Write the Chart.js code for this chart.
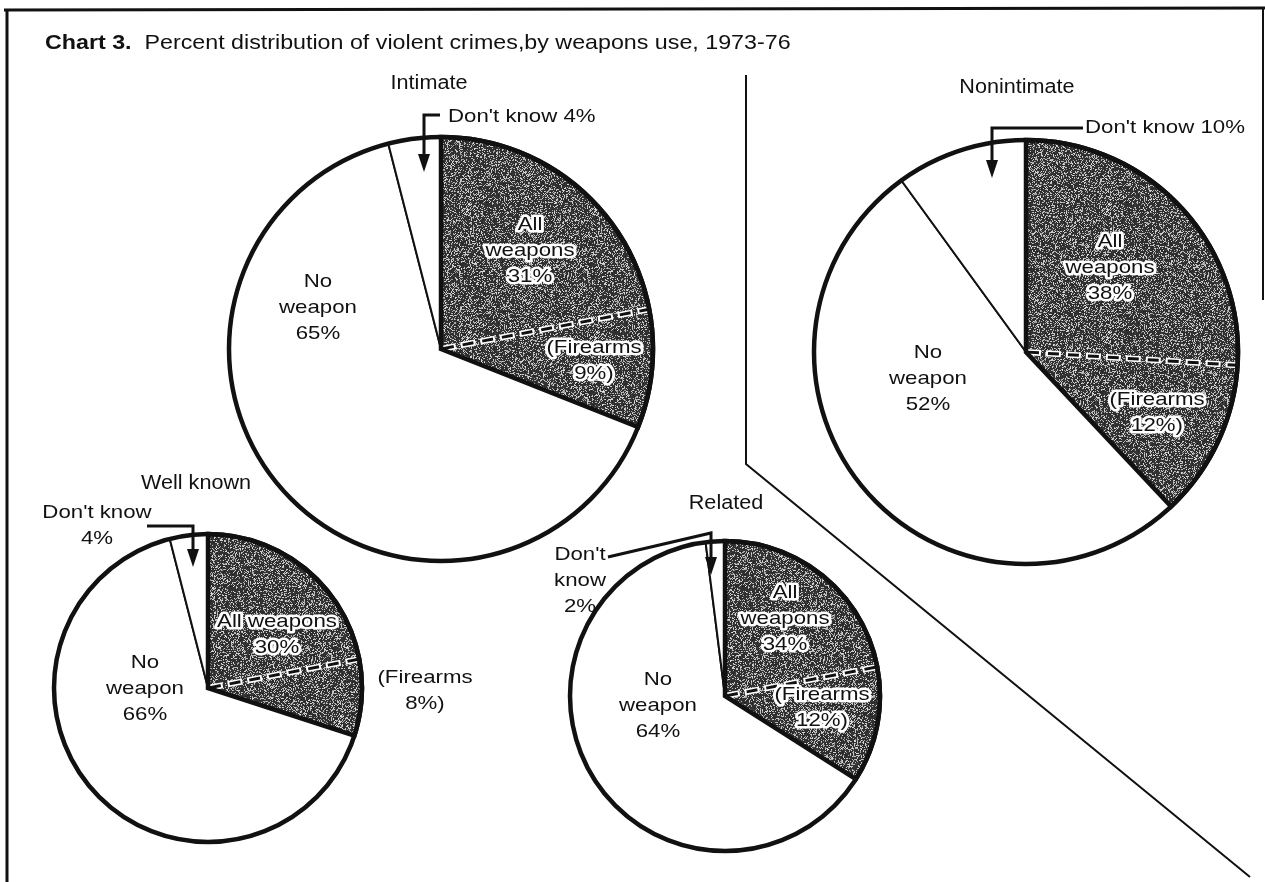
<!DOCTYPE html>
<html>
<head>
<meta charset="utf-8">
<script src="https://cdn.jsdelivr.net/npm/chart.js@4.4.0/dist/chart.umd.min.js"></script>
<style>
html,body{margin:0;padding:0;background:#fff;}
#page{position:relative;width:1265px;height:882px;overflow:hidden;background:#fff;font-family:"Liberation Sans",Arial,sans-serif;}
canvas{position:absolute;left:0;top:0;}
#title{position:absolute;left:45px;top:29px;font-size:21px;line-height:26px;white-space:pre;color:#111;transform:scaleX(1.107);transform-origin:0 50%;}
</style>
</head>
<body>
<div id="page">
<canvas id="frame" width="1265" height="882"></canvas>
<div id="title"><b>Chart 3.</b>  Percent distribution of violent crimes,by weapons use, 1973-76</div>
<canvas id="c0" width="1265" height="882"></canvas>
<canvas id="c1" width="1265" height="882"></canvas>
<canvas id="c2" width="1265" height="882"></canvas>
<canvas id="c3" width="1265" height="882"></canvas>
</div>
<script>
// ---- data ----
const sliceNames = ['All weapons', 'No weapon', "Don't know"];
const pieTitles = ['Intimate', 'Nonintimate', 'Well known', 'Related'];
const intimateShares = [31, 65, 4];
const nonintimateShares = [38, 52, 10];
const wellKnownShares = [30, 66, 4];
const relatedShares = [34, 64, 2];
const firearmsShares = [9, 12, 8, 12];

// ---- layout (positions relative to each pie centre) ----
const W = 1265, H = 882;
const INK = '#111';
const layouts = [
  { cx: 441, cy: 349, r: 212, title: [-12, -266],
    weapons: { x: 89, y: -124, lines: v => ['All', 'weapons', v + '%'] },
    fire: { x: 153, y: -1, halo: true },
    none: { x: -123, y: -67, lines: v => ['No', 'weapon', v + '%'] },
    dk: { x: 7, y: -232, align: 'left', lines: v => ["Don't know " + v + '%'] },
    arrow: [[-1, -234], [-17, -234], [-17, -177]] },
  { cx: 1026, cy: 352, r: 212, title: [-9, -265],
    weapons: { x: 84, y: -110, lines: v => ['All', 'weapons', v + '%'] },
    fire: { x: 131, y: 48, halo: true },
    none: { x: -98, y: 1, lines: v => ['No', 'weapon', v + '%'] },
    dk: { x: 59, y: -224, align: 'left', lines: v => ["Don't know " + v + '%'] },
    arrow: [[57, -224], [-34, -224], [-34, -174]] },
  { cx: 208, cy: 688, r: 154, title: [-12, -205],
    weapons: { x: 69, y: -66, lines: v => ['All weapons', v + '%'] },
    fire: { x: 217, y: -10, halo: false },
    none: { x: -63, y: -25, lines: v => ['No', 'weapon', v + '%'] },
    dk: { x: -111, y: -175, align: 'center', lines: v => ["Don't know", v + '%'] },
    arrow: [[-61, -162], [-15, -162], [-15, -121]] },
  { cx: 725, cy: 696, r: 155, title: [1, -193],
    weapons: { x: 60, y: -103, lines: v => ['All', 'weapons', v + '%'] },
    fire: { x: 97, y: -1, halo: true },
    none: { x: -67, y: -16, lines: v => ['No', 'weapon', v + '%'] },
    dk: { x: -145, y: -141, align: 'center', lines: v => ["Don't", 'know', v + '%'] },
    arrow: [[-117, -139], [-14, -163], [-14, -121]] }
];
const shareSets = [intimateShares, nonintimateShares, wellKnownShares, relatedShares];

// ---- speckled grey screen for the weapons slices (fixed hash texture) ----
function makeScreen() {
  const n = 128;
  const c = document.createElement('canvas');
  c.width = n; c.height = n;
  const g = c.getContext('2d');
  const img = g.createImageData(n, n);
  for (let j = 0; j < n; j++) {
    for (let i = 0; i < n; i++) {
      const h = Math.sin(i * 12.9898 + j * 78.233) * 43758.5453;
      const f = h - Math.floor(h);
      const v = f < 0.7 ? 38 + Math.round(f * 30) : 150 + Math.round((f - 0.7) * 250);
      const k = (j * n + i) * 4;
      img.data[k] = v; img.data[k + 1] = v; img.data[k + 2] = v; img.data[k + 3] = 255;
    }
  }
  g.putImageData(img, 0, 0);
  return g.createPattern(c, 'repeat');
}
const SCREEN = makeScreen();

// ---- frame, title rule and dividers ----
(function drawFrame() {
  const c = document.getElementById('frame').getContext('2d');
  c.strokeStyle = INK;
  c.lineCap = 'butt';
  c.lineWidth = 3;
  c.beginPath(); c.moveTo(4, 10); c.lineTo(1265, 8); c.stroke();
  c.beginPath(); c.moveTo(7, 9); c.lineTo(7, 882); c.stroke();
  c.lineWidth = 2;
  c.beginPath(); c.moveTo(1263, 9); c.lineTo(1263, 300); c.stroke();
  c.lineWidth = 2;
  c.beginPath(); c.moveTo(746, 75); c.lineTo(746, 464); c.lineTo(1250, 877); c.stroke();
})();

// ---- text helper ----
function drawLines(ctx, lines, x, y, o) {
  const size = o.size || 19, lh = o.lh || 26, sx = o.sx || 1.17;
  ctx.save();
  ctx.font = size + 'px "Liberation Sans", Arial, sans-serif';
  ctx.textBaseline = 'middle';
  ctx.textAlign = o.align || 'center';
  lines.forEach((t, i) => {
    ctx.save();
    ctx.translate(x, y + i * lh);
    ctx.scale(sx, 1);
    if (o.halo) {
      ctx.lineJoin = 'round';
      ctx.lineWidth = 5;
      ctx.strokeStyle = '#fff';
      ctx.strokeText(t, 0, 0);
    }
    ctx.fillStyle = INK;
    ctx.fillText(t, 0, 0);
    ctx.restore();
  });
  ctx.restore();
}

function annotPlugin(idx) {
  return {
    id: 'annot' + idx,
    afterDatasetsDraw(chart) {
      const L = layouts[idx];
      const vals = shareSets[idx];
      const meta = chart.getDatasetMeta(0);
      const wArc = meta.data[0];
      const p = wArc.getProps(['x', 'y', 'outerRadius', 'startAngle', 'endAngle'], true);
      const x = p.x, y = p.y, R = p.outerRadius;
      const ctx = chart.ctx;
      ctx.save();
      // firearms dashed divider inside weapons slice
      const ang = p.endAngle - (firearmsShares[idx] / meta.total) * Math.PI * 2;
      const ex = x + R * Math.cos(ang), ey = y + R * Math.sin(ang);
      ctx.lineCap = 'butt';
      ctx.setLineDash([15, 5]);
      ctx.strokeStyle = '#fff';
      ctx.lineWidth = 6;
      ctx.beginPath(); ctx.moveTo(x, y); ctx.lineTo(ex, ey); ctx.stroke();
      ctx.setLineDash([11, 9]);
      ctx.lineDashOffset = -2;
      ctx.strokeStyle = INK;
      ctx.lineWidth = 3;
      ctx.beginPath(); ctx.moveTo(x, y); ctx.lineTo(ex, ey); ctx.stroke();
      ctx.setLineDash([]);
      ctx.lineDashOffset = 0;
      // thick outline of whole pie and the weapons slice
      ctx.strokeStyle = INK;
      ctx.lineWidth = 4.5;
      ctx.lineJoin = 'miter';
      ctx.beginPath(); ctx.arc(x, y, R, 0, Math.PI * 2); ctx.stroke();
      ctx.beginPath();
      ctx.moveTo(x, y);
      ctx.arc(x, y, R, p.startAngle, p.endAngle);
      ctx.closePath();
      ctx.stroke();
      // leader arrow for "Don't know"
      const pts = L.arrow.map(q => [x + q[0], y + q[1]]);
      const tip = pts[pts.length - 1], prev = pts[pts.length - 2];
      const dx = tip[0] - prev[0], dy = tip[1] - prev[1];
      const len = Math.hypot(dx, dy), ux = dx / len, uy = dy / len;
      const head = 18, hw = 6;
      ctx.lineWidth = 3;
      ctx.beginPath();
      ctx.moveTo(pts[0][0], pts[0][1]);
      for (let i = 1; i < pts.length - 1; i++) ctx.lineTo(pts[i][0], pts[i][1]);
      ctx.lineTo(tip[0] - ux * head, tip[1] - uy * head);
      ctx.stroke();
      ctx.fillStyle = INK;
      ctx.beginPath();
      ctx.moveTo(tip[0], tip[1]);
      ctx.lineTo(tip[0] - ux * head - uy * hw, tip[1] - uy * head + ux * hw);
      ctx.lineTo(tip[0] - ux * head + uy * hw, tip[1] - uy * head - ux * hw);
      ctx.closePath();
      ctx.fill();
      // labels
      drawLines(ctx, [pieTitles[idx]], x + L.title[0], y + L.title[1], { size: 20, sx: 1.08 });
      drawLines(ctx, L.weapons.lines(vals[0]), x + L.weapons.x, y + L.weapons.y, { halo: true });
      drawLines(ctx, ['(Firearms', firearmsShares[idx] + '%)'], x + L.fire.x, y + L.fire.y, { halo: L.fire.halo });
      drawLines(ctx, L.none.lines(vals[1]), x + L.none.x, y + L.none.y, {});
      drawLines(ctx, L.dk.lines(vals[2]), x + L.dk.x, y + L.dk.y, { align: L.dk.align });
      ctx.restore();
    }
  };
}

layouts.forEach((L, idx) => {
  const pad = 2;
  new Chart(document.getElementById('c' + idx), {
    type: 'pie',
    data: {
      labels: sliceNames,
      datasets: [{
        data: shareSets[idx],
        backgroundColor: [SCREEN, '#ffffff', '#ffffff'],
        borderColor: INK,
        borderWidth: 2,
        radius: L.r
      }]
    },
    options: {
      responsive: false,
      animation: false,
      events: [],
      layout: { padding: { left: L.cx - L.r - pad, right: W - L.cx - L.r - pad, top: L.cy - L.r - pad, bottom: H - L.cy - L.r - pad } },
      plugins: { legend: { display: false }, tooltip: { enabled: false }, title: { display: false } }
    },
    plugins: [annotPlugin(idx)]
  });
});
</script>
</body>
</html>
